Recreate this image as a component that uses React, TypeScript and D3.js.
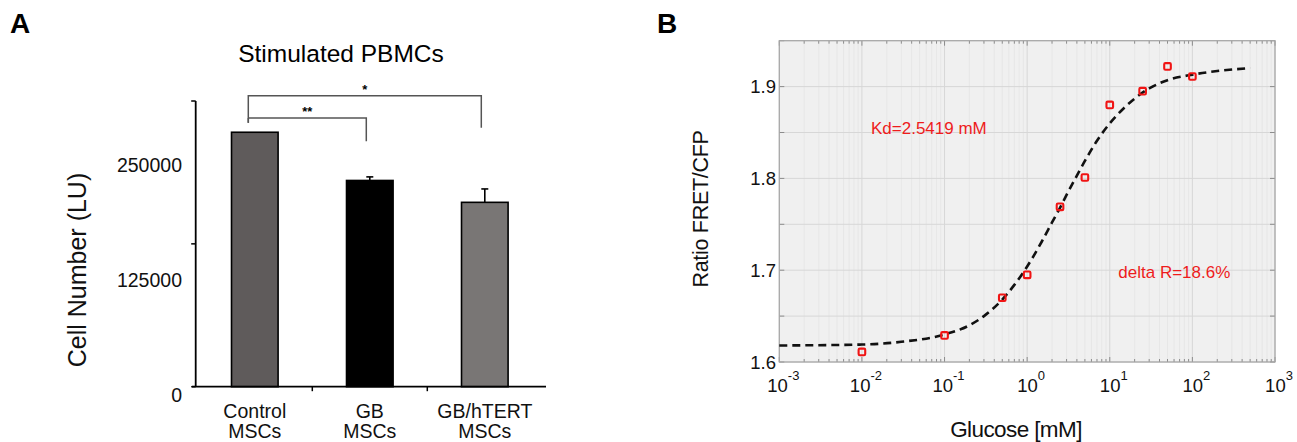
import React, { useEffect, useRef } from 'react';
import * as d3 from 'd3';

// Panel A: cell numbers of stimulated PBMCs
const categories = [['Control', 'MSCs'], ['GB', 'MSCs'], ['GB/hTERT', 'MSCs']];
const cellNumbers = [285000, 231000, 206500];
const cellErrors = [0, 4000, 15000];
const barColors = ['#5f5b5b', '#000000', '#797675'];
const cellTickMarks = [0, 160000, 320000];
const cellTickLabels = [0, 125000, 250000];
const comparisons = [
  { from: 0, to: 2, label: '*', level: 326000, leftEnd: 295500, rightEnd: 290000 },
  { from: 0, to: 1, label: '**', level: 301000, leftEnd: 301000, rightEnd: 275000 },
];

// Panel B: FRET ratio vs glucose
const glucose = [0.01, 0.1, 0.5, 1, 2.5, 5, 10, 25, 50, 100];
const ratio = [1.611, 1.629, 1.67, 1.695, 1.769, 1.801, 1.88, 1.895, 1.922, 1.911];
const fitGlucose = [0.001, 0.01, 0.03, 0.1, 0.2, 0.3, 0.5, 0.7, 1, 1.5, 2, 2.5, 3, 4, 5, 7, 10, 15, 20, 30, 50, 100, 200, 500];
const fitRatio = [1.618, 1.619, 1.622, 1.63, 1.64, 1.65, 1.668, 1.684, 1.704, 1.731, 1.752, 1.768, 1.782, 1.803, 1.819, 1.841, 1.86, 1.877, 1.887, 1.898, 1.907, 1.913, 1.917, 1.92];
const ratioTickLabels = [1.6, 1.7, 1.8, 1.9];
const ratioGridLines = [1.6, 1.65, 1.7, 1.75, 1.8, 1.85, 1.9, 1.95];
const decadeExponents = [-3, -2, -1, 0, 1, 2, 3];

const FONT = '"Liberation Sans", Arial, sans-serif';

const App = () => {
  const svgRef = useRef<SVGSVGElement>(null);

  useEffect(() => {
    const svg = d3.select(svgRef.current);
    svg.selectAll('*').remove();
    svg.style('font-family', FONT);

    // ---------- Panel A ----------
    const a = svg.append('g');
    const yA = d3.scaleLinear().domain([0, 320000]).range([386.7, 101]);
    const labelY = d3.scaleLinear().domain([0, 250000]).range([401.7, 171.7]);
    const xA = d3.scaleBand<number>().domain(categories.map((_, i) => i)).range([197.3, 542.3]).padding(0);
    const barW = xA.bandwidth() * 0.405;
    const cx = (i: number) => (xA(i) as number) + xA.bandwidth() / 2;
    const axisX = 195.7;

    a.append('text').attr('x', 10).attr('y', 33).style('font-size', '28px').style('font-weight', 'bold').text('A');
    a.append('text').attr('x', 341).attr('y', 62).attr('text-anchor', 'middle').style('font-size', '24.5px').text('Stimulated PBMCs');

    a.selectAll('.bar')
      .data(cellNumbers)
      .enter()
      .append('rect')
      .attr('x', (d, i) => cx(i) - barW / 2)
      .attr('width', barW)
      .attr('y', d => yA(d))
      .attr('height', d => yA(0) - yA(d))
      .style('fill', (d, i) => barColors[i])
      .style('stroke', '#000')
      .style('stroke-width', 1.6);

    // error bars (upper half)
    cellNumbers.forEach((v, i) => {
      if (!cellErrors[i]) return;
      a.append('line').attr('x1', cx(i)).attr('x2', cx(i)).attr('y1', yA(v)).attr('y2', yA(v + cellErrors[i]))
        .style('stroke', '#000').style('stroke-width', 1.6);
      a.append('line').attr('x1', cx(i) - 3.5).attr('x2', cx(i) + 3.5).attr('y1', yA(v + cellErrors[i])).attr('y2', yA(v + cellErrors[i]))
        .style('stroke', '#000').style('stroke-width', 1.6);
    });

    // axes
    a.append('line').attr('x1', axisX).attr('x2', axisX).attr('y1', yA(320000)).attr('y2', yA(0))
      .style('stroke', '#000').style('stroke-width', 1.8);
    a.append('line').attr('x1', 192).attr('x2', 546).attr('y1', yA(0)).attr('y2', yA(0))
      .style('stroke', '#000').style('stroke-width', 1.8);
    cellTickMarks.forEach(t => {
      a.append('line').attr('x1', axisX - 4.5).attr('x2', axisX).attr('y1', yA(t)).attr('y2', yA(t))
        .style('stroke', '#000').style('stroke-width', 1.5);
    });
    [1, 2].forEach(i => {
      a.append('line').attr('x1', xA(i) as number).attr('x2', xA(i) as number).attr('y1', yA(0)).attr('y2', yA(0) + 4.5)
        .style('stroke', '#000').style('stroke-width', 1.5);
    });
    cellTickLabels.forEach(t => {
      a.append('text').attr('x', 182).attr('y', labelY(t)).attr('text-anchor', 'end')
        .style('font-size', '19.5px').style('fill', '#111').text(String(t));
    });
    categories.forEach((lines, i) => {
      lines.forEach((s, j) => {
        a.append('text').attr('x', cx(i)).attr('y', 418.3 + j * 19.6).attr('text-anchor', 'middle')
          .style('font-size', '19.5px').style('fill', '#111').text(s);
      });
    });
    a.append('text')
      .attr('transform', `translate(86,270) rotate(-90)`)
      .attr('text-anchor', 'middle')
      .style('font-size', '25px')
      .style('fill', '#111')
      .text('Cell Number (LU)');

    // significance brackets
    comparisons.forEach(c => {
      const x1 = cx(c.from) - 6.5;
      const x2 = cx(c.to) - 3.5;
      const path = d3.path();
      path.moveTo(x1, yA(c.leftEnd));
      path.lineTo(x1, yA(c.level));
      path.lineTo(x2, yA(c.level));
      path.lineTo(x2, yA(c.rightEnd));
      a.append('path').attr('d', path.toString()).style('fill', 'none').style('stroke', '#555').style('stroke-width', 1.5);
      a.append('text').attr('x', (x1 + x2) / 2).attr('y', yA(c.level) - 2).attr('text-anchor', 'middle')
        .style('font-size', '13px').style('font-weight', 'bold').text(c.label);
    });
    // left leg of the outer bracket reaches below the inner one
    a.append('line').attr('x1', cx(0) - 6.5).attr('x2', cx(0) - 6.5).attr('y1', yA(comparisons[1].level)).attr('y2', yA(295500))
      .style('stroke', '#555').style('stroke-width', 1.5);

    // ---------- Panel B ----------
    const b = svg.append('g');
    const xB = d3.scaleLog().domain([1e-3, 1e3]).range([779.3, 1275]);
    const yB = d3.scaleLinear().domain([1.6, 1.95]).range([362, 40.7]);
    const [left, right] = xB.range();
    const [bottom, top] = yB.range();

    b.append('text').attr('x', 657).attr('y', 33).style('font-size', '28px').style('font-weight', 'bold').text('B');

    b.append('rect').attr('x', left).attr('y', top).attr('width', right - left).attr('height', bottom - top)
      .style('fill', '#f0f0f0');

    const minorX: number[] = [];
    decadeExponents.slice(0, -1).forEach(e => {
      for (let k = 2; k <= 9; k++) minorX.push(k * Math.pow(10, e));
    });
    const majorX = decadeExponents.map(e => Math.pow(10, e));

    b.selectAll('.minor-grid').data(minorX).enter().append('line')
      .attr('x1', d => xB(d)).attr('x2', d => xB(d)).attr('y1', top).attr('y2', bottom)
      .style('stroke', '#e5e5e5').style('stroke-width', 0.8);
    b.selectAll('.major-grid').data(majorX).enter().append('line')
      .attr('x1', d => xB(d)).attr('x2', d => xB(d)).attr('y1', top).attr('y2', bottom)
      .style('stroke', '#d7d7d7').style('stroke-width', 1);
    b.selectAll('.y-grid').data(ratioGridLines).enter().append('line')
      .attr('x1', left).attr('x2', right).attr('y1', d => yB(d)).attr('y2', d => yB(d))
      .style('stroke', '#d7d7d7').style('stroke-width', 1);

    // inner ticks
    const tickColor = '#8c8c8c';
    [...minorX.map(v => ({ v, len: 3 })), ...majorX.map(v => ({ v, len: 5 }))].forEach(t => {
      b.append('line').attr('x1', xB(t.v)).attr('x2', xB(t.v)).attr('y1', bottom).attr('y2', bottom - t.len)
        .style('stroke', tickColor).style('stroke-width', 1);
      b.append('line').attr('x1', xB(t.v)).attr('x2', xB(t.v)).attr('y1', top).attr('y2', top + t.len)
        .style('stroke', tickColor).style('stroke-width', 1);
    });
    ratioGridLines.forEach(v => {
      b.append('line').attr('x1', left).attr('x2', left + 5).attr('y1', yB(v)).attr('y2', yB(v))
        .style('stroke', tickColor).style('stroke-width', 1);
      b.append('line').attr('x1', right).attr('x2', right - 5).attr('y1', yB(v)).attr('y2', yB(v))
        .style('stroke', tickColor).style('stroke-width', 1);
    });

    b.append('rect').attr('x', left).attr('y', top).attr('width', right - left).attr('height', bottom - top)
      .style('fill', 'none').style('stroke', '#a6a6a6').style('stroke-width', 1.2);

    // fitted curve
    const line = d3.line<number>()
      .x(d => xB(d))
      .y((d, i) => yB(fitRatio[i]))
      .curve(d3.curveMonotoneX);
    b.append('path').attr('d', line(fitGlucose) as string)
      .style('fill', 'none').style('stroke', '#111').style('stroke-width', 2.6).style('stroke-dasharray', '8,5');

    // measured points
    b.selectAll('.pt').data(glucose).enter().append('rect')
      .attr('x', d => xB(d) - 3.3).attr('y', (d, i) => yB(ratio[i]) - 3.3)
      .attr('width', 6.6).attr('height', 6.6).attr('rx', 1.2)
      .style('fill', 'none').style('stroke', '#f01414').style('stroke-width', 2.1);

    // tick labels
    ratioTickLabels.forEach(v => {
      b.append('text').attr('x', 776).attr('y', yB(v) + 6.6).attr('text-anchor', 'end')
        .style('font-size', '18.5px').style('fill', '#111').text(v.toFixed(1));
    });
    decadeExponents.forEach(e => {
      const t = b.append('text').attr('x', xB(Math.pow(10, e)) + 4).attr('y', 392.3).attr('text-anchor', 'middle')
        .style('font-size', '18.5px').style('fill', '#111');
      t.append('tspan').text('10');
      t.append('tspan').attr('dy', -12).style('font-size', '13px').text(String(e));
    });

    b.append('text').attr('x', 1016).attr('y', 436.7).attr('text-anchor', 'middle')
      .style('font-size', '22.5px').style('letter-spacing', '-0.6px').style('fill', '#111').text('Glucose [mM]');
    b.append('text')
      .attr('transform', `translate(708,209) rotate(-90)`)
      .attr('text-anchor', 'middle')
      .style('font-size', '21.5px').style('letter-spacing', '-0.3px').style('fill', '#111')
      .text('Ratio FRET/CFP');

    b.append('text').attr('x', 871).attr('y', 134.3).style('font-size', '17px').style('fill', '#ee1c1c').text('Kd=2.5419 mM');
    b.append('text').attr('x', 1118.3).attr('y', 278.3).style('font-size', '17px').style('fill', '#ee1c1c').text('delta R=18.6%');
  }, []);

  return (
    <svg
      ref={svgRef}
      width={1297}
      height={442}
      style={{ position: 'absolute', left: 0, top: 0, background: '#fff' }}
    />
  );
};

export default App;
